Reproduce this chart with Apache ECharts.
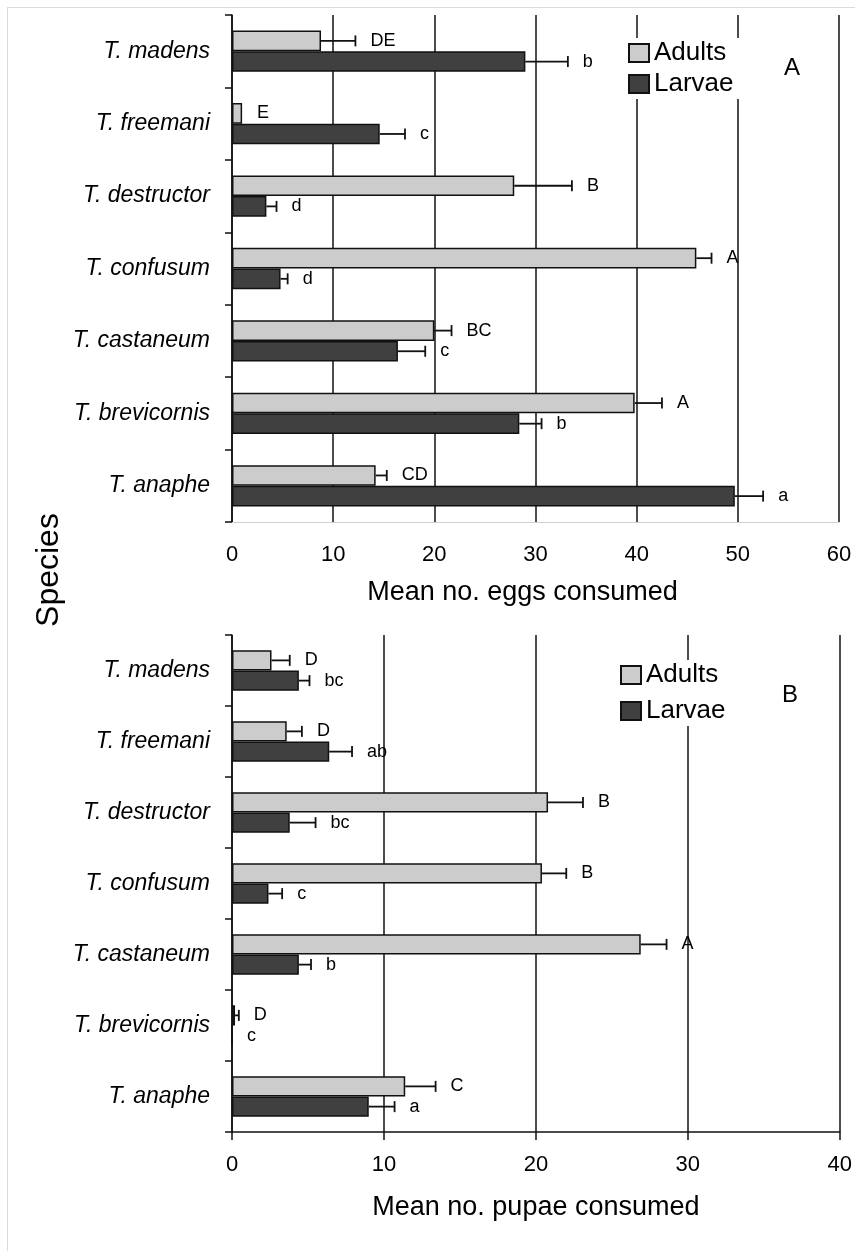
<!DOCTYPE html>
<html>
<head>
<meta charset="utf-8">
<script src="https://cdn.jsdelivr.net/npm/echarts@6/dist/echarts.min.js"></script>
<style>html,body{margin:0;padding:0;background:#fff;}#c{width:855px;height:1251px;}</style>
</head>
<body>
<div id="c"></div>
<script>
const categories = ['T. madens','T. freemani','T. destructor','T. confusum','T. castaneum','T. brevicornis','T. anaphe'];

const eggsAdults        = [8.8, 1.0, 27.9, 45.9, 20.0, 39.8, 14.2];
const eggsAdultsErr     = [3.4, 0, 5.7, 1.5, 1.7, 2.7, 1.1];
const eggsAdultsLetters = ['DE','E','B','A','BC','A','CD'];
const eggsLarvae        = [29.0, 14.6, 3.4, 4.8, 16.4, 28.4, 49.7];
const eggsLarvaeErr     = [4.2, 2.5, 1.0, 0.7, 2.7, 2.2, 2.8];
const eggsLarvaeLetters = ['b','c','d','d','c','b','a'];

const pupaeAdults        = [2.6, 3.6, 20.8, 20.4, 26.9, 0.2, 11.4];
const pupaeAdultsErr     = [1.2, 1.0, 2.3, 1.6, 1.7, 0.25, 2.0];
const pupaeAdultsLetters = ['D','D','B','B','A','D','C'];
const pupaeLarvae        = [4.4, 6.4, 3.8, 2.4, 4.4, 0, 9.0];
const pupaeLarvaeErr     = [0.7, 1.5, 1.7, 0.9, 0.8, 0, 1.7];
const pupaeLarvaeLetters = ['bc','ab','bc','c','b','c','a'];

const eggsTicks  = [0, 60, 10];   // min, max, interval
const pupaeTicks = [0, 40, 10];

const FONT = '"Liberation Sans", Arial, sans-serif';
const DARK = '#111';
const CAT_GAP = 0.43;
const BAR_FRAC = (1 - CAT_GAP) / 2;

function barSeries(name, values, idx, color) {
  return {
    type: 'bar', name: name, xAxisIndex: idx, yAxisIndex: idx,
    data: values, barGap: '0%', barCategoryGap: (CAT_GAP * 100) + '%',
    itemStyle: { color: color, borderColor: DARK, borderWidth: 1.5 },
    emphasis: { disabled: true }, silent: true, z: 3
  };
}

function errSeries(values, errs, letters, idx, sign) {
  return {
    type: 'custom', xAxisIndex: idx, yAxisIndex: idx, silent: true, z: 4,
    data: values.map((v, i) => [i, v, errs[i]]),
    encode: { x: 1, y: 0 },
    renderItem: function (params, api) {
      const i = api.value(0), v = api.value(1), e = api.value(2);
      const band = api.size([0, 1])[1];
      const off = sign * band * BAR_FRAC / 2;
      const p0 = api.coord([v, i]);
      const p1 = api.coord([v + e, i]);
      const y = p0[1] + off;
      const children = [];
      const st = { stroke: DARK, lineWidth: 1.8 };
      if (e > 0) {
        children.push({ type: 'line', shape: { x1: p0[0], y1: y, x2: p1[0], y2: y }, style: st });
        children.push({ type: 'line', shape: { x1: p1[0], y1: y - 5.5, x2: p1[0], y2: y + 5.5 }, style: st });
      }
      children.push({ type: 'text', style: {
        text: letters[params.dataIndex], x: p1[0] + 15, y: y,
        fill: '#000', font: '18px ' + FONT, textAlign: 'left', textVerticalAlign: 'middle'
      }});
      return { type: 'group', children: children };
    }
  };
}

function yAxisCfg(idx) {
  return {
    type: 'category', gridIndex: idx, data: categories, inverse: true,
    axisLine: { show: true, lineStyle: { color: DARK, width: 1.5 } },
    axisTick: { show: true, length: 7, lineStyle: { color: DARK, width: 1.5 } },
    axisLabel: { margin: 22, color: '#000', fontSize: 23, fontStyle: 'italic', fontFamily: FONT },
    splitLine: { show: false }
  };
}

const chart = echarts.init(document.getElementById('c'), null, { renderer: 'canvas' });
chart.setOption({
  backgroundColor: '#fff',
  animation: false,
  grid: [
    { left: 232, top: 15, width: 607, height: 507 },
    { left: 232, top: 635, width: 609, height: 497 }
  ],
  xAxis: [
    {
      type: 'value', gridIndex: 0, min: eggsTicks[0], max: eggsTicks[1], interval: eggsTicks[2],
      name: 'Mean no. eggs consumed', nameLocation: 'middle', nameGap: 57,
      nameTextStyle: { fontSize: 27, color: '#000', fontFamily: FONT, padding: [0, 26, 0, 0] },
      axisLine: { show: true, lineStyle: { color: '#d0d0d0', width: 1 } },
      axisTick: { show: false },
      axisLabel: { margin: 22, color: '#000', fontSize: 22, fontFamily: FONT },
      splitLine: { show: true, lineStyle: { color: DARK, width: 1.5 } }
    },
    {
      type: 'value', gridIndex: 1, min: pupaeTicks[0], max: pupaeTicks[1], interval: pupaeTicks[2],
      name: 'Mean no. pupae consumed', nameLocation: 'middle', nameGap: 62,
      nameTextStyle: { fontSize: 27, color: '#000', fontFamily: FONT },
      axisLine: { show: true, lineStyle: { color: DARK, width: 1.5 } },
      axisTick: { show: true, length: 8, lineStyle: { color: DARK, width: 1.5 } },
      axisLabel: { margin: 22, color: '#000', fontSize: 22, fontFamily: FONT },
      splitLine: { show: true, lineStyle: { color: DARK, width: 1.5 } }
    }
  ],
  yAxis: [yAxisCfg(0), yAxisCfg(1)],
  legend: [
    {
      left: 626, top: 38, orient: 'vertical', data: ['Adults', 'Larvae'], icon: 'rect',
      itemWidth: 20, itemHeight: 18, itemGap: 5, selectedMode: false,
      backgroundColor: '#fff', padding: [2, 6, 2, 2],
      textStyle: { fontSize: 26, color: '#000', fontFamily: FONT }
    },
    {
      left: 618, top: 660, orient: 'vertical', data: ['Adults', 'Larvae'], icon: 'rect',
      itemWidth: 20, itemHeight: 18, itemGap: 10, selectedMode: false,
      backgroundColor: '#fff', padding: [2, 6, 2, 2],
      textStyle: { fontSize: 26, color: '#000', fontFamily: FONT }
    }
  ],
  series: [
    barSeries('Adults', eggsAdults, 0, '#cccccc'),
    barSeries('Larvae', eggsLarvae, 0, '#404040'),
    errSeries(eggsAdults, eggsAdultsErr, eggsAdultsLetters, 0, -1),
    errSeries(eggsLarvae, eggsLarvaeErr, eggsLarvaeLetters, 0, 1),
    barSeries('Adults', pupaeAdults, 1, '#cccccc'),
    barSeries('Larvae', pupaeLarvae, 1, '#404040'),
    errSeries(pupaeAdults, pupaeAdultsErr, pupaeAdultsLetters, 1, -1),
    errSeries(pupaeLarvae, pupaeLarvaeErr, pupaeLarvaeLetters, 1, 1)
  ],
  graphic: [
    { type: 'line', shape: { x1: 7.5, y1: 7, x2: 7.5, y2: 1251 }, style: { stroke: '#dcdcdc', lineWidth: 1 }, silent: true },
    { type: 'line', shape: { x1: 7, y1: 7.5, x2: 855, y2: 7.5 }, style: { stroke: '#dcdcdc', lineWidth: 1 }, silent: true },
    { type: 'text', style: { text: 'A', x: 792, y: 68, fill: '#000', font: '24px ' + FONT, textAlign: 'center', textVerticalAlign: 'middle' }, silent: true },
    { type: 'text', style: { text: 'B', x: 790, y: 695, fill: '#000', font: '24px ' + FONT, textAlign: 'center', textVerticalAlign: 'middle' }, silent: true },
    { type: 'text', rotation: Math.PI / 2, x: 49, y: 570, style: { text: 'Species', x: 0, y: 0, fill: '#000', font: '32px ' + FONT, textAlign: 'center', textVerticalAlign: 'middle' }, silent: true }
  ]
});
</script>
</body>
</html>
